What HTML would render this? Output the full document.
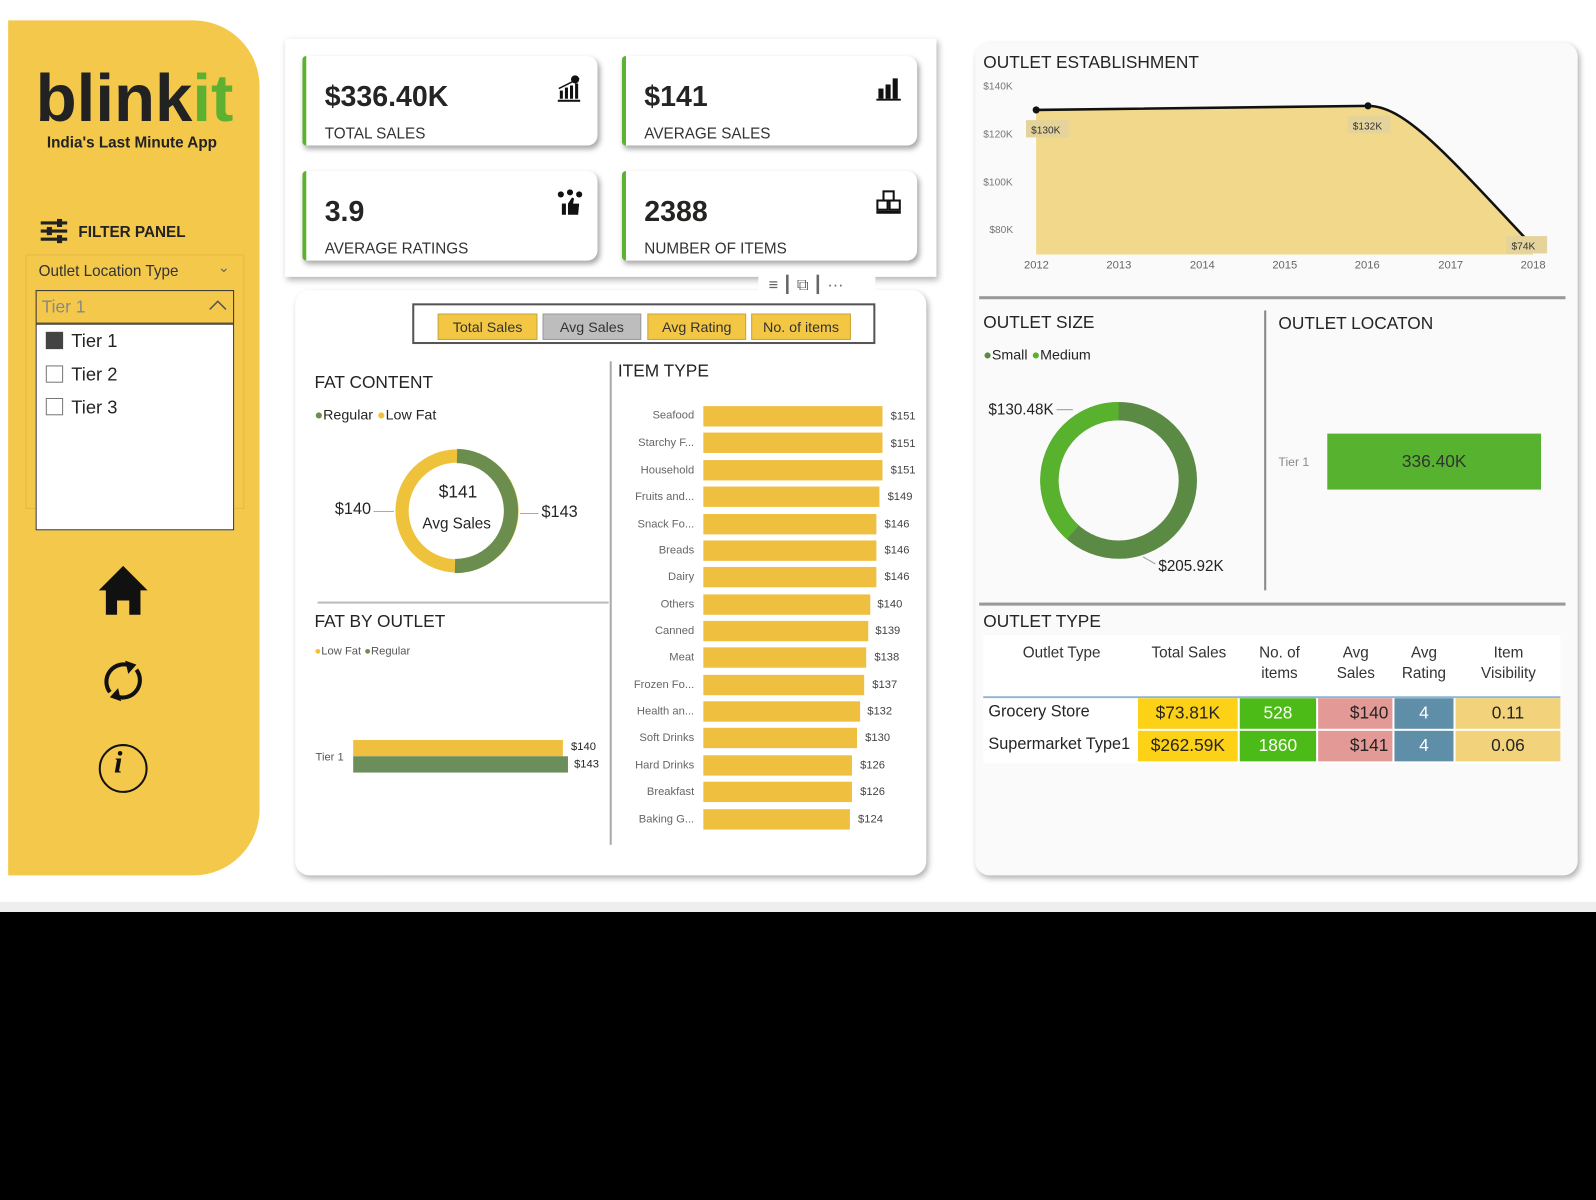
<!DOCTYPE html>
<html><head><meta charset="utf-8"><style>
*{margin:0;padding:0;box-sizing:border-box}
html,body{width:1596px;height:1200px;overflow:hidden;background:#000}
#w{position:absolute;left:0;top:0;width:1568px;height:1179px;transform:scale(1.01786);transform-origin:0 0;background:#000;font-family:"Liberation Sans","DejaVu Sans",sans-serif;color:#252423}
.a{position:absolute}
.t{position:absolute;white-space:nowrap}
.card{position:absolute;background:#fff;border-left:4px solid #5db030;border-radius:4px 10px 10px 4px;box-shadow:2px 3px 5px rgba(0,0,0,.35)}
.v{position:absolute;left:18px;top:24px;font-size:28px;font-weight:bold;color:#252423}
.l{position:absolute;left:18px;top:68px;font-size:15px;color:#333}
.btn{position:absolute;top:8px;height:26px;background:#f3c744;border:1px solid #c9a53a;font-size:14px;text-align:center;line-height:24px;color:#333}
.it{position:absolute;left:600px;width:82px;text-align:right;font-size:11px;color:#666}
.bar{position:absolute;left:691px;height:20px;background:#efbf3f}
.bv{position:absolute;font-size:11px;color:#444}
.th{position:absolute;top:632px;font-size:15px;color:#333;text-align:center;line-height:20px}
.c{position:absolute;height:30px;line-height:30px;text-align:center;font-size:17px}
</style></head><body><div id="w">
<div class="a" style="left:0;top:0;width:1568px;height:888px;background:#fff"></div>
<div class="a" style="left:0;top:886px;width:1568px;height:10px;background:#eee"></div>

<!-- sidebar -->
<div class="a" style="left:8px;top:20px;width:247px;height:840px;background:#f4c84a;border-radius:0 65px 65px 0"></div>
<div class="t" style="left:35px;top:58px;font-size:66px;font-weight:bold;letter-spacing:0px;color:#222">blink<span style="color:#5db030">it</span></div>
<div class="t" style="left:46px;top:132px;font-size:15px;font-weight:bold;color:#222">India's Last Minute App</div>
<svg class="a" style="left:38px;top:215px" width="30" height="24"><g stroke="#222" stroke-width="3"><line x1="2" y1="4" x2="28" y2="4"/><line x1="2" y1="12" x2="28" y2="12"/><line x1="2" y1="20" x2="28" y2="20"/></g><g fill="#222"><rect x="18" y="0" width="5" height="8"/><rect x="8" y="8" width="5" height="8"/><rect x="18" y="16" width="5" height="8"/></g></svg>
<div class="t" style="left:77px;top:220px;font-size:15px;font-weight:bold;color:#222">FILTER PANEL</div>
<div class="a" style="left:25px;top:250px;width:215px;height:250px;border:1px solid #e2bb45"></div>
<div class="t" style="left:38px;top:258px;font-size:15px;color:#333">Outlet Location Type</div>
<div class="t" style="left:214px;top:254px;font-size:14px;color:#666">&#8964;</div>
<div class="a" style="left:35px;top:285px;width:195px;height:33px;border:1px solid #333"></div>
<div class="t" style="left:41px;top:292px;font-size:17px;color:#888">Tier 1</div>
<svg class="a" style="left:205px;top:294px" width="18" height="12"><polyline points="1,10 9,2 17,10" fill="none" stroke="#555" stroke-width="1.5"/></svg>
<div class="a" style="left:35px;top:318px;width:195px;height:203px;background:#fff;border:1px solid #333"></div>
<div class="a" style="left:45px;top:326px;width:17px;height:17px;background:#444"></div>
<div class="a" style="left:45px;top:359px;width:17px;height:17px;border:1px solid #777"></div>
<div class="a" style="left:45px;top:391px;width:17px;height:17px;border:1px solid #777"></div>
<div class="t" style="left:70px;top:325px;font-size:18px">Tier 1</div>
<div class="t" style="left:70px;top:358px;font-size:18px">Tier 2</div>
<div class="t" style="left:70px;top:390px;font-size:18px">Tier 3</div>
<svg class="a" style="left:96px;top:554px" width="50" height="52"><polygon points="25,2 49,26 42,26 42,50 31,50 31,36 19,36 19,50 8,50 8,26 1,26" fill="#111"/></svg>
<svg class="a" style="left:98px;top:646px" width="46" height="46"><path d="M30 8 A17 17 0 0 0 10 34" fill="none" stroke="#111" stroke-width="4"/><path d="M16 38 A17 17 0 0 0 36 12" fill="none" stroke="#111" stroke-width="4"/><polygon points="25,3 36,7 28,16" fill="#111"/><polygon points="21,43 10,39 18,30" fill="#111"/></svg>
<div class="a" style="left:97px;top:731px;width:48px;height:48px;border:2.5px solid #111;border-radius:50%"></div>
<div class="t" style="left:112px;top:733px;font-size:30px;font-weight:bold;font-style:italic;font-family:'Liberation Serif',serif;color:#111">i</div>

<!-- KPI panel -->
<div class="a" style="left:280px;top:38px;width:640px;height:234px;background:#fff;box-shadow:2px 3px 6px rgba(0,0,0,.3)"></div>
<div class="card" style="left:297px;top:55px;width:290px;height:88px"><div class="v">$336.40K</div><div class="l">TOTAL SALES</div><svg class="a" style="left:246px;top:18px" width="26" height="28"><circle cx="18" cy="5" r="4" fill="#111"/><line x1="2" y1="14" x2="22" y2="4" stroke="#111" stroke-width="1.5"/><rect x="3" y="16" width="3" height="8" fill="#111"/><rect x="8" y="13" width="3" height="11" fill="#111"/><rect x="13" y="11" width="3" height="13" fill="#111"/><rect x="18" y="9" width="3" height="15" fill="#111"/><rect x="1" y="25" width="22" height="2" fill="#111"/></svg></div>
<div class="card" style="left:611px;top:55px;width:290px;height:88px"><div class="v">$141</div><div class="l">AVERAGE SALES</div><svg class="a" style="left:245px;top:18px" width="26" height="26"><rect x="3" y="14" width="5" height="10" fill="#111"/><rect x="10" y="10" width="5" height="14" fill="#111"/><rect x="17" y="4" width="5" height="20" fill="#111"/><rect x="1" y="24" width="24" height="2" fill="#111"/></svg></div>
<div class="card" style="left:297px;top:168px;width:290px;height:88px"><div class="v">3.9</div><div class="l">AVERAGE RATINGS</div><svg class="a" style="left:246px;top:18px" width="26" height="28"><circle cx="4" cy="5" r="3" fill="#111"/><circle cx="13" cy="3" r="3" fill="#111"/><circle cx="22" cy="5" r="3" fill="#111"/><rect x="5" y="14" width="4" height="11" fill="#111"/><path d="M11 14 L15 8 L17 9 L16 14 L22 14 L21 25 L11 25 Z" fill="#111"/></svg></div>
<div class="card" style="left:611px;top:168px;width:290px;height:88px"><div class="v">2388</div><div class="l">NUMBER OF ITEMS</div><svg class="a" style="left:245px;top:18px" width="26" height="26"><rect x="8" y="2" width="10" height="9" fill="none" stroke="#111" stroke-width="2"/><rect x="2" y="11" width="10" height="9" fill="none" stroke="#111" stroke-width="2"/><rect x="14" y="11" width="10" height="9" fill="none" stroke="#111" stroke-width="2"/><rect x="1" y="21" width="24" height="3" fill="#111"/></svg></div>

<!-- middle panel -->
<div class="a" style="left:290px;top:285px;width:620px;height:575px;background:#fff;border-radius:14px;box-shadow:2px 3px 6px rgba(0,0,0,.3)"></div>
<div class="a" style="left:745px;top:270px;width:115px;height:24px;background:#fff"></div>
<div class="t" style="left:755px;top:270px;font-size:16px;color:#666">&#8801; &#9475; &#10697; &#9475; &middot;&middot;&middot;</div>
<div class="a" style="left:405px;top:298px;width:455px;height:40px;border:2px solid #555">
<div class="btn" style="left:23px;width:98px">Total Sales</div>
<div class="btn" style="left:126px;width:97px;background:#bdbdbd;border-color:#999">Avg Sales</div>
<div class="btn" style="left:229px;width:97px">Avg Rating</div>
<div class="btn" style="left:331px;width:98px">No. of items</div></div>
<div class="t" style="left:309px;top:366px;font-size:17px">FAT CONTENT</div>
<div class="t" style="left:309px;top:399px;font-size:14px"><span style="color:#6b8e4e">&#9679;</span>Regular <span style="color:#f2c230">&#9679;</span>Low Fat</div>
<svg class="a" style="left:380px;top:432px" width="140" height="140"><circle cx="69" cy="70" r="54" fill="none" stroke="#efc23b" stroke-width="13"/><path d="M69 16 A54 54 0 0 1 67 124" fill="none" stroke="#6b8e4e" stroke-width="14"/></svg>
<div class="t" style="left:431px;top:474px;font-size:17px">$141</div>
<div class="t" style="left:415px;top:506px;font-size:15px">Avg Sales</div>
<div class="t" style="left:329px;top:492px;font-size:16px">$140</div>
<div class="a" style="left:367px;top:502px;width:20px;height:1px;background:#aaa"></div>
<div class="t" style="left:532px;top:495px;font-size:16px">$143</div>
<div class="a" style="left:511px;top:504px;width:18px;height:1px;background:#aaa"></div>
<div class="a" style="left:312px;top:591px;width:286px;height:2px;background:#bbb"></div>
<div class="t" style="left:309px;top:601px;font-size:17px">FAT BY OUTLET</div>
<div class="t" style="left:309px;top:634px;font-size:11px;color:#555"><span style="color:#f2c230">&#9679;</span>Low Fat <span style="color:#6b8e4e">&#9679;</span>Regular</div>
<div class="t" style="left:310px;top:738px;font-size:11px;color:#555">Tier 1</div>
<div class="a" style="left:347px;top:727px;width:206px;height:16px;background:#efbf3f"></div>
<div class="a" style="left:347px;top:743px;width:211px;height:16px;background:#6b8e5a"></div>
<div class="t" style="left:561px;top:728px;font-size:11px">$140</div>
<div class="t" style="left:564px;top:745px;font-size:11px">$143</div>
<div class="a" style="left:599px;top:355px;width:2px;height:475px;background:#aaa"></div>
<div class="t" style="left:607px;top:355px;font-size:17px">ITEM TYPE</div>

<div class="it" style="top:402px">Seafood</div><div class="bar" style="top:399px;width:176px"></div><div class="bv" style="left:875px;top:403px">$151</div>
<div class="it" style="top:429px">Starchy F...</div><div class="bar" style="top:425px;width:176px"></div><div class="bv" style="left:875px;top:430px">$151</div>
<div class="it" style="top:456px">Household</div><div class="bar" style="top:452px;width:176px"></div><div class="bv" style="left:875px;top:456px">$151</div>
<div class="it" style="top:482px">Fruits and...</div><div class="bar" style="top:478px;width:173px"></div><div class="bv" style="left:872px;top:482px">$149</div>
<div class="it" style="top:509px">Snack Fo...</div><div class="bar" style="top:505px;width:170px"></div><div class="bv" style="left:869px;top:509px">$146</div>
<div class="it" style="top:535px">Breads</div><div class="bar" style="top:531px;width:170px"></div><div class="bv" style="left:869px;top:535px">$146</div>
<div class="it" style="top:561px">Dairy</div><div class="bar" style="top:557px;width:170px"></div><div class="bv" style="left:869px;top:561px">$146</div>
<div class="it" style="top:588px">Others</div><div class="bar" style="top:584px;width:164px"></div><div class="bv" style="left:862px;top:588px">$140</div>
<div class="it" style="top:614px">Canned</div><div class="bar" style="top:610px;width:162px"></div><div class="bv" style="left:860px;top:614px">$139</div>
<div class="it" style="top:640px">Meat</div><div class="bar" style="top:636px;width:160px"></div><div class="bv" style="left:859px;top:640px">$138</div>
<div class="it" style="top:667px">Frozen Fo...</div><div class="bar" style="top:663px;width:158px"></div><div class="bv" style="left:857px;top:667px">$137</div>
<div class="it" style="top:693px">Health an...</div><div class="bar" style="top:689px;width:154px"></div><div class="bv" style="left:852px;top:693px">$132</div>
<div class="it" style="top:719px">Soft Drinks</div><div class="bar" style="top:715px;width:151px"></div><div class="bv" style="left:850px;top:719px">$130</div>
<div class="it" style="top:746px">Hard Drinks</div><div class="bar" style="top:742px;width:146px"></div><div class="bv" style="left:845px;top:746px">$126</div>
<div class="it" style="top:772px">Breakfast</div><div class="bar" style="top:768px;width:146px"></div><div class="bv" style="left:845px;top:772px">$126</div>
<div class="it" style="top:799px">Baking G...</div><div class="bar" style="top:795px;width:144px"></div><div class="bv" style="left:843px;top:799px">$124</div>

<!-- right panel -->
<div class="a" style="left:958px;top:42px;width:592px;height:818px;background:#fafafa;border-radius:14px;box-shadow:2px 3px 6px rgba(0,0,0,.3)"></div>
<div class="t" style="left:966px;top:52px;font-size:17px">OUTLET ESTABLISHMENT</div>
<div class="t" style="left:966px;top:80px;font-size:10px;color:#777">$140K</div>
<div class="t" style="left:966px;top:127px;font-size:10px;color:#777">$120K</div>
<div class="t" style="left:966px;top:174px;font-size:10px;color:#777">$100K</div>
<div class="t" style="left:972px;top:221px;font-size:10px;color:#777">$80K</div>
<svg class="a" style="left:1000px;top:90px" width="530" height="170"><path d="M18 18 L344 14 C380 14 420 60 506 152 L506 160 L18 160 Z" fill="#f2d88a"/><path d="M18 18 L344 14 C380 14 420 60 506 152" fill="none" stroke="#111" stroke-width="2.5"/><circle cx="18" cy="18" r="3.5" fill="#111"/><circle cx="344" cy="14" r="3.5" fill="#111"/><circle cx="506" cy="152" r="3.5" fill="#111"/>
<rect x="8" y="28" width="42" height="17" fill="#e4d39a"/><text x="13" y="41" font-size="10" fill="#333" font-family="Liberation Sans">$130K</text>
<rect x="324" y="24" width="42" height="17" fill="#e4d39a"/><text x="329" y="37" font-size="10" fill="#333" font-family="Liberation Sans">$132K</text>
<rect x="480" y="142" width="40" height="17" fill="#e4d39a"/><text x="485" y="155" font-size="10" fill="#333" font-family="Liberation Sans">$74K</text></svg>
<div class="t" style="left:1006px;top:255px;font-size:11px;color:#666">2012</div>
<div class="t" style="left:1087px;top:255px;font-size:11px;color:#666">2013</div>
<div class="t" style="left:1169px;top:255px;font-size:11px;color:#666">2014</div>
<div class="t" style="left:1250px;top:255px;font-size:11px;color:#666">2015</div>
<div class="t" style="left:1331px;top:255px;font-size:11px;color:#666">2016</div>
<div class="t" style="left:1413px;top:255px;font-size:11px;color:#666">2017</div>
<div class="t" style="left:1494px;top:255px;font-size:11px;color:#666">2018</div>
<div class="a" style="left:962px;top:291px;width:576px;height:3px;background:#999"></div>
<div class="t" style="left:966px;top:307px;font-size:17px">OUTLET SIZE</div>
<div class="t" style="left:966px;top:340px;font-size:14px"><span style="color:#5b8a45">&#9679;</span>Small <span style="color:#59b22e">&#9679;</span>Medium</div>
<svg class="a" style="left:1019px;top:392px" width="160" height="160"><circle cx="80" cy="80" r="68" fill="none" stroke="#5b8a45" stroke-width="18"/><path d="M80 12 A68 68 0 0 0 35 131" fill="none" stroke="#59b22e" stroke-width="18"/></svg>
<div class="t" style="left:971px;top:394px;font-size:15px">$130.48K</div>
<div class="a" style="left:1038px;top:402px;width:16px;height:1px;background:#999"></div>
<div class="t" style="left:1138px;top:548px;font-size:15px">$205.92K</div>
<div class="a" style="left:1122px;top:550px;width:14px;height:1px;background:#999;transform:rotate(30deg)"></div>
<div class="a" style="left:1242px;top:305px;width:2px;height:275px;background:#888"></div>
<div class="t" style="left:1256px;top:308px;font-size:17px">OUTLET LOCATON</div>
<div class="t" style="left:1256px;top:447px;font-size:12px;color:#888">Tier 1</div>
<div class="a" style="left:1304px;top:426px;width:210px;height:55px;background:#56b22f;text-align:center;line-height:55px;font-size:17px;color:#333">336.40K</div>
<div class="a" style="left:962px;top:592px;width:576px;height:3px;background:#999"></div>
<div class="t" style="left:966px;top:601px;font-size:17px">OUTLET TYPE</div>
<div class="a" style="left:966px;top:624px;width:567px;height:60px;background:#fff"></div>
<div class="th" style="left:990px;width:106px">Outlet Type</div>
<div class="th" style="left:1120px;width:96px">Total Sales</div>
<div class="th" style="left:1222px;width:70px">No. of<br>items</div>
<div class="th" style="left:1298px;width:68px">Avg<br>Sales</div>
<div class="th" style="left:1370px;width:58px">Avg<br>Rating</div>
<div class="th" style="left:1434px;width:96px">Item<br>Visibility</div>
<div class="a" style="left:966px;top:684px;width:567px;height:2px;background:#8fb4d6"></div>
<div class="a" style="left:966px;top:686px;width:567px;height:64px;background:#fff"></div>
<div class="t" style="left:971px;top:691px;font-size:16px">Grocery Store</div>
<div class="t" style="left:971px;top:723px;font-size:16px">Supermarket Type1</div>
<div class="c" style="left:1118px;top:686px;width:98px;background:#fcd116">$73.81K</div>
<div class="c" style="left:1218px;top:686px;width:75px;background:#4cbb17;color:#fff">528</div>
<div class="c" style="left:1295px;top:686px;width:73px;background:#e39a96;text-align:right;padding-right:4px">$140</div>
<div class="c" style="left:1370px;top:686px;width:58px;background:#5f8ea8;color:#fff">4</div>
<div class="c" style="left:1430px;top:686px;width:103px;background:#f2d27a">0.11</div>
<div class="c" style="left:1118px;top:718px;width:98px;background:#fcd116">$262.59K</div>
<div class="c" style="left:1218px;top:718px;width:75px;background:#4cbb17;color:#fff">1860</div>
<div class="c" style="left:1295px;top:718px;width:73px;background:#e39a96;text-align:right;padding-right:4px">$141</div>
<div class="c" style="left:1370px;top:718px;width:58px;background:#5f8ea8;color:#fff">4</div>
<div class="c" style="left:1430px;top:718px;width:103px;background:#f2d27a">0.06</div>
</div></body></html>
